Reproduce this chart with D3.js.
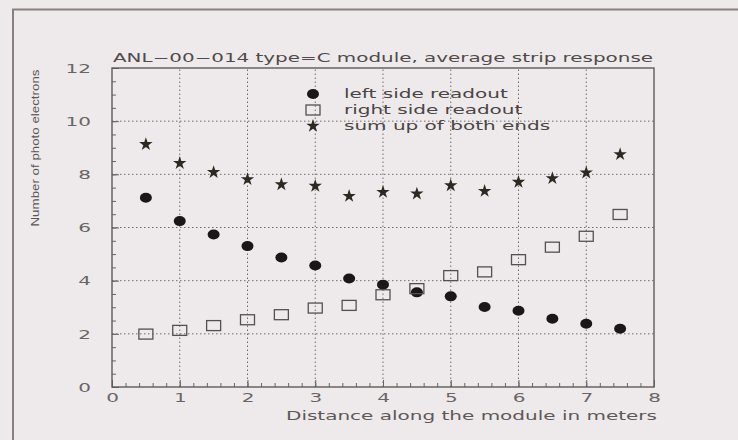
<!DOCTYPE html>
<html>
<head>
<meta charset="utf-8">
<script src="https://cdn.jsdelivr.net/npm/d3@7"></script>
<style>
  html, body { margin: 0; padding: 0; background: #eeeaeb; }
  svg { display: block; }
</style>
</head>
<body>
<svg id="chart" width="738" height="440"></svg>
<script>
// ---- data ----
const positions = [0.5, 1, 1.5, 2, 2.5, 3, 3.5, 4, 4.5, 5, 5.5, 6, 6.5, 7, 7.5];
const leftSide  = [7.12, 6.24, 5.74, 5.30, 4.87, 4.57, 4.08, 3.85, 3.56, 3.41, 3.01, 2.87, 2.57, 2.38, 2.19];
const rightSide = [1.99, 2.13, 2.31, 2.53, 2.72, 2.97, 3.07, 3.47, 3.70, 4.19, 4.33, 4.79, 5.26, 5.67, 6.49];
const sumBoth   = [9.13, 8.42, 8.08, 7.81, 7.62, 7.56, 7.18, 7.33, 7.27, 7.58, 7.37, 7.71, 7.85, 8.06, 8.75];
const xTicks = [0, 1, 2, 3, 4, 5, 6, 7, 8];
const yTicks = [0, 2, 4, 6, 8, 10, 12];
const legendLabels = ["left side readout", "right side readout", "sum up of both ends"];
const titleText = "ANL\u221200\u2212014 type=C module, average strip response";
const xLabelText = "Distance along the module in meters";
const yLabelText = "Number of photo electrons";

const svg = d3.select("#chart");
const font = "'DejaVu Sans', sans-serif";

// background + outer frame
svg.append("rect").attr("width", 738).attr("height", 440).attr("fill", "#eeeaeb");
svg.append("path")
  .attr("d", "M13,440 L13,9.5 L738,9.5")
  .attr("fill", "none").attr("stroke", "#8c7f7f").attr("stroke-width", 2);

const x = d3.scaleLinear().domain([0, 8]).range([112, 654]);
const y = d3.scaleLinear().domain([0, 12]).range([387, 68]);

const g = svg.append("g");

// x label first, to measure the horizontal stretch of the original font
const xl = svg.append("text")
  .attr("x", 286).attr("y", 420)
  .attr("font-family", font).attr("font-size", 12).attr("fill", "#5e5858")
  .text(xLabelText);
const xlNatural = xl.node().getComputedTextLength();
const stretch = 371 / xlNatural;
xl.attr("textLength", 371).attr("lengthAdjust", "spacingAndGlyphs");

// grid lines (dotted)
g.selectAll(".vgrid").data(xTicks.slice(1, -1)).join("line")
  .attr("x1", d => x(d)).attr("x2", d => x(d))
  .attr("y1", y(0)).attr("y2", y(12))
  .attr("stroke", "#6f6a6a").attr("stroke-width", 1).attr("stroke-dasharray", "1.5,2.5");
g.selectAll(".hgrid").data(yTicks.slice(1, -1)).join("line")
  .attr("x1", x(0)).attr("x2", x(8))
  .attr("y1", d => y(d)).attr("y2", d => y(d))
  .attr("stroke", "#6f6a6a").attr("stroke-width", 1).attr("stroke-dasharray", "1.5,2.5");

// inward minor ticks via d3 axes
const xAxis = d3.axisBottom(x).tickValues(d3.range(0, 8.001, 0.2)).tickSize(-4).tickFormat("");
const yAxis = d3.axisLeft(y).tickValues(d3.range(0, 12.001, 0.5)).tickSize(-4).tickFormat("");
const gx = g.append("g").attr("transform", `translate(0,${y(0)})`).call(xAxis);
const gy = g.append("g").attr("transform", `translate(${x(0)},0)`).call(yAxis);
[gx, gy].forEach(a => {
  a.select(".domain").remove();
  a.selectAll("line").attr("stroke", "#666");
});
// major ticks + labels
const xMajor = d3.axisBottom(x).tickValues(xTicks).tickSize(-7).tickFormat(d => d);
const yMajor = d3.axisLeft(y).tickValues(yTicks).tickSize(-7).tickFormat(d => d);
const gxm = g.append("g").attr("transform", `translate(0,${y(0)})`).call(xMajor);
const gym = g.append("g").attr("transform", `translate(${x(0)},0)`).call(yMajor);
[gxm, gym].forEach(a => {
  a.select(".domain").remove();
  a.selectAll("line").attr("stroke", "#666");
  a.selectAll("text").attr("font-family", font).attr("font-size", 12)
    .attr("fill", "#6a6565");
});
gxm.selectAll("text").attr("y", 6).attr("dy", "0.71em");
gym.selectAll("text").attr("x", -21).attr("dy", "0.36em");
[gxm, gym].forEach(a => {
  a.selectAll("text").each(function () {
    const w = this.getComputedTextLength();
    d3.select(this).attr("textLength", w * stretch).attr("lengthAdjust", "spacingAndGlyphs");
  });
});

// frame
g.append("rect")
  .attr("x", x(0)).attr("y", y(12))
  .attr("width", x(8) - x(0)).attr("height", y(0) - y(12))
  .attr("fill", "none").attr("stroke", "#5e5a5a").attr("stroke-width", 1.4);

// data marks
const idx = d3.range(positions.length);
const starPath = d3.symbol().type(d3.symbolStar).size(56)();

g.selectAll(".left").data(idx).join("ellipse")
  .attr("cx", i => x(positions[i])).attr("cy", i => y(leftSide[i]))
  .attr("rx", 6).attr("ry", 5)
  .attr("fill", "#1a1718");

g.selectAll(".right").data(idx).join("rect")
  .attr("x", i => x(positions[i]) - 7).attr("y", i => y(rightSide[i]) - 5)
  .attr("width", 14).attr("height", 10)
  .attr("fill", "none").attr("stroke", "#555050").attr("stroke-width", 1.3);

g.selectAll(".sum").data(idx).join("path")
  .attr("d", starPath)
  .attr("transform", i => `translate(${x(positions[i])},${y(sumBoth[i])})`)
  .attr("fill", "#2a2a22");

// title
svg.append("text")
  .attr("x", 113).attr("y", 62)
  .attr("font-family", font).attr("font-size", 12).attr("fill", "#504a4a")
  .attr("textLength", 540).attr("lengthAdjust", "spacingAndGlyphs")
  .text(titleText);

// y label
svg.append("text")
  .attr("transform", "translate(39,148) rotate(-90)")
  .attr("text-anchor", "middle")
  .attr("font-family", "'Liberation Sans', sans-serif").attr("font-size", 11)
  .attr("fill", "#5a5555")
  .attr("textLength", 157).attr("lengthAdjust", "spacingAndGlyphs")
  .text(yLabelText);

// legend
const legY = [94, 110, 126];
const lg = svg.append("g");
lg.append("ellipse").attr("cx", 313).attr("cy", legY[0]).attr("rx", 6).attr("ry", 5).attr("fill", "#1a1718");
lg.append("rect").attr("x", 306).attr("y", legY[1] - 5).attr("width", 14).attr("height", 10)
  .attr("fill", "none").attr("stroke", "#555050").attr("stroke-width", 1.3);
lg.append("path").attr("d", starPath).attr("transform", `translate(313,${legY[2]})`).attr("fill", "#2a2a22");
legendLabels.forEach((t, i) => {
  const tx = lg.append("text")
    .attr("x", 344).attr("y", legY[i]).attr("dy", "0.35em")
    .attr("font-family", font).attr("font-size", 12).attr("fill", "#4a4545")
    .text(t);
  const w = tx.node().getComputedTextLength();
  tx.attr("textLength", w * stretch).attr("lengthAdjust", "spacingAndGlyphs");
});
</script>
</body>
</html>
